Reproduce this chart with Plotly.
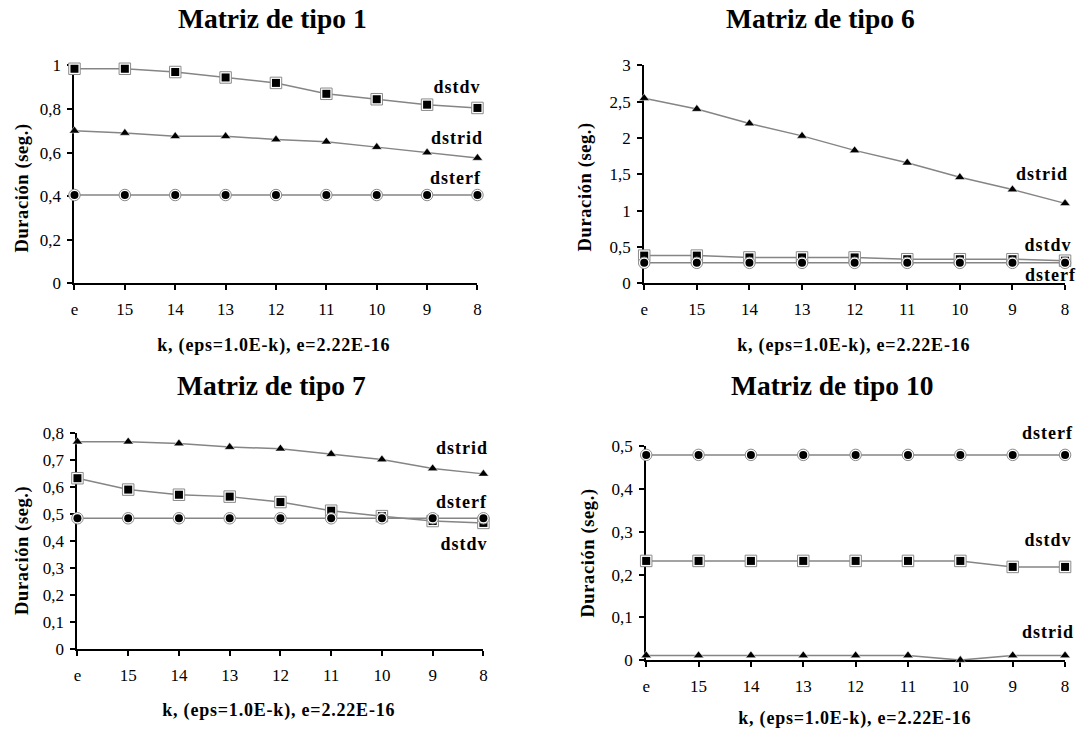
import plotly.graph_objects as go

# ---------------- data ----------------
CATEGORIES = ["e", "15", "14", "13", "12", "11", "10", "9", "8"]

T1_DSTDV = [0.985, 0.985, 0.970, 0.945, 0.920, 0.870, 0.845, 0.820, 0.805]
T1_DSTRID = [0.700, 0.690, 0.675, 0.675, 0.660, 0.650, 0.625, 0.600, 0.575]
T1_DSTERF = [0.405, 0.405, 0.405, 0.405, 0.405, 0.405, 0.405, 0.405, 0.405]

T6_DSTRID = [2.55, 2.40, 2.20, 2.03, 1.83, 1.66, 1.46, 1.29, 1.10]
T6_DSTDV = [0.38, 0.38, 0.355, 0.355, 0.355, 0.33, 0.33, 0.33, 0.31]
T6_DSTERF = [0.28, 0.28, 0.28, 0.28, 0.28, 0.28, 0.28, 0.28, 0.28]

T7_DSTRID = [0.767, 0.767, 0.760, 0.747, 0.741, 0.721, 0.701, 0.668, 0.648]
T7_DSTDV = [0.632, 0.590, 0.571, 0.564, 0.544, 0.512, 0.492, 0.474, 0.467]
T7_DSTERF = [0.484, 0.484, 0.484, 0.484, 0.484, 0.484, 0.484, 0.484, 0.484]

T10_DSTERF = [0.48, 0.48, 0.48, 0.48, 0.48, 0.48, 0.48, 0.48, 0.48]
T10_DSTDV = [0.232, 0.232, 0.232, 0.232, 0.232, 0.232, 0.232, 0.218, 0.218]
T10_DSTRID = [0.011, 0.011, 0.011, 0.011, 0.011, 0.011, 0.0, 0.011, 0.011]

Y1_TICKS = [0, 0.2, 0.4, 0.6, 0.8, 1]
Y1_LABELS = ["0", "0,2", "0,4", "0,6", "0,8", "1"]
Y6_TICKS = [0, 0.5, 1, 1.5, 2, 2.5, 3]
Y6_LABELS = ["0", "0,5", "1", "1,5", "2", "2,5", "3"]
Y7_TICKS = [0, 0.1, 0.2, 0.3, 0.4, 0.5, 0.6, 0.7, 0.8]
Y7_LABELS = ["0", "0,1", "0,2", "0,3", "0,4", "0,5", "0,6", "0,7", "0,8"]
Y10_TICKS = [0, 0.1, 0.2, 0.3, 0.4, 0.5]
Y10_LABELS = ["0", "0,1", "0,2", "0,3", "0,4", "0,5"]

TITLES = ["Matriz de tipo 1", "Matriz de tipo 6", "Matriz de tipo 7", "Matriz de tipo 10"]
X_TITLE = "k, (eps=1.0E-k), e=2.22E-16"
Y_TITLE = "Duración (seg.)"

# ---------------- layout helpers ----------------
W, H = 1077, 731
SERIF = "Liberation Serif, Times New Roman, serif"


def fx(p):
    return p / W


def fy(p):
    return 1 - p / H


panels = [
    dict(title=TITLES[0], series={"dstdv": T1_DSTDV, "dstrid": T1_DSTRID, "dsterf": T1_DSTERF},
         yticks=Y1_TICKS, ylabels=Y1_LABELS, ymax=1.0,
         xpix=(71, 477), ypix=(58, 281.5), title_pos=(271, 10), xt_pos=(272, 345), yt_pos=(18, 184),
         labels={"dstdv": (480, 80), "dstrid": (482, 132), "dsterf": (481, 173)}),
    dict(title=TITLES[1], series={"dstrid": T6_DSTRID, "dstdv": T6_DSTDV, "dsterf": T6_DSTERF},
         yticks=Y6_TICKS, ylabels=Y6_LABELS, ymax=3.0,
         xpix=(645, 1069), ypix=(58, 281.5), title_pos=(823, 10), xt_pos=(856, 345), yt_pos=(586, 183),
         labels={"dstrid": (1071, 169), "dstdv": (1075, 242), "dsterf": (1080, 273)}),
    dict(title=TITLES[2], series={"dstrid": T7_DSTRID, "dstdv": T7_DSTDV, "dsterf": T7_DSTERF},
         yticks=Y7_TICKS, ylabels=Y7_LABELS, ymax=0.8,
         xpix=(74, 483), ypix=(435, 657.5), title_pos=(270, 387), xt_pos=(277, 720), yt_pos=(19, 556),
         labels={"dstrid": (487, 451), "dsterf": (487, 506), "dstdv": (487, 549)}),
    dict(title=TITLES[3], series={"dsterf": T10_DSTERF, "dstdv": T10_DSTDV, "dstrid": T10_DSTRID},
         yticks=Y10_TICKS, ylabels=Y10_LABELS, ymax=0.5,
         xpix=(647, 1069), ypix=(449, 668.5), title_pos=(834, 387), xt_pos=(857, 728), yt_pos=(589, 559),
         labels={"dsterf": (1077, 435), "dstdv": (1075, 545), "dstrid": (1077, 640)}),
]

SYMBOLS = {"dstdv": "square", "dsterf": "circle", "dstrid": "triangle-up"}
LINE_GRAY = "#858585"

fig = go.Figure()
annotations = []
layout_axes = {}
xpos = list(range(len(CATEGORIES)))

for i, p in enumerate(panels, start=1):
    xref = "x" if i == 1 else f"x{i}"
    yref = "y" if i == 1 else f"y{i}"
    for name, vals in p["series"].items():
        sym = SYMBOLS[name]
        fig.add_trace(go.Scatter(x=xpos, y=vals, xaxis=xref, yaxis=yref, mode="lines",
                                 line=dict(color=LINE_GRAY, width=1.5), showlegend=False,
                                 hoverinfo="skip", cliponaxis=False))
        if sym == "triangle-up":
            fig.add_trace(go.Scatter(x=xpos, y=vals, xaxis=xref, yaxis=yref, mode="markers",
                                     marker=dict(symbol=sym, size=9, color="black",
                                                 line=dict(color="white", width=0.5)),
                                     showlegend=False, name=name, cliponaxis=False))
        else:
            fig.add_trace(go.Scatter(x=xpos, y=vals, xaxis=xref, yaxis=yref, mode="markers",
                                     marker=dict(symbol=sym, size=11.5, color="white",
                                                 line=dict(color="#8a8a8a", width=1)),
                                     showlegend=False, hoverinfo="skip", cliponaxis=False))
            fig.add_trace(go.Scatter(x=xpos, y=vals, xaxis=xref, yaxis=yref, mode="markers",
                                     marker=dict(symbol=sym, size=8, color="black"),
                                     showlegend=False, name=name, cliponaxis=False))

    xd = [fx(p["xpix"][0]), fx(p["xpix"][1])]
    yd = [fy(p["ypix"][1]), fy(p["ypix"][0])]
    axis_common = dict(showgrid=False, zeroline=False, tickcolor="black", tickwidth=1.5,
                       ticklen=5, layer="below traces")
    key_x = "xaxis" if i == 1 else f"xaxis{i}"
    key_y = "yaxis" if i == 1 else f"yaxis{i}"
    layout_axes[key_x] = dict(domain=xd, anchor=yref, range=[0, len(CATEGORIES) - 1],
                              tickmode="array", tickvals=xpos, ticktext=CATEGORIES,
                              ticks="outside", showline=True, linecolor="black", linewidth=2,
                              tickfont=dict(family=SERIF, size=17, color="black"),
                              ticklabelstandoff=4, **axis_common)
    layout_axes[key_y] = dict(domain=yd, anchor=xref, range=[0, p["ymax"]],
                              tickmode="array", tickvals=p["yticks"], ticktext=p["ylabels"],
                              ticks="outside", showline=True, linecolor="black", linewidth=2,
                              tickfont=dict(family=SERIF, size=17, color="black"),
                              ticklabelstandoff=3, **axis_common)
    j = i + 4
    layout_axes[f"xaxis{j}"] = dict(domain=xd, anchor=yref, overlaying=xref,
                                    range=[0, len(CATEGORIES) - 1], tickmode="array",
                                    tickvals=xpos, ticks="inside", showticklabels=False,
                                    showline=False, **axis_common)
    layout_axes[f"yaxis{j}"] = dict(domain=yd, anchor=xref, overlaying=yref,
                                    range=[0, p["ymax"]], tickmode="array",
                                    tickvals=p["yticks"], ticks="inside", showticklabels=False,
                                    showline=False, **axis_common)

    annotations.append(dict(text=f"<b>{p['title']}</b>", xref="paper", yref="paper",
                            x=fx(p["title_pos"][0]), y=fy(p["title_pos"][1]),
                            xanchor="center", yanchor="middle", showarrow=False,
                            font=dict(family=SERIF, size=27.5, color="black")))
    annotations.append(dict(text=f"<b>{X_TITLE}</b>", xref="paper", yref="paper",
                            x=fx(p["xt_pos"][0]), y=fy(p["xt_pos"][1]),
                            xanchor="center", yanchor="middle", showarrow=False,
                            font=dict(family=SERIF, size=18, color="black")))
    annotations.append(dict(text=f"<b>{Y_TITLE}</b>", xref="paper", yref="paper",
                            x=fx(p["yt_pos"][0]), y=fy(p["yt_pos"][1]), textangle=-90,
                            xanchor="center", yanchor="middle", showarrow=False,
                            font=dict(family=SERIF, size=18.5, color="black")))
    for name, (lx, ly) in p["labels"].items():
        annotations.append(dict(text=f"<b>{name}</b>", xref="paper", yref="paper",
                                x=fx(lx), y=fy(ly), xanchor="right", yanchor="middle",
                                showarrow=False,
                                font=dict(family=SERIF, size=18, color="black")))

fig.update_layout(width=W, height=H, margin=dict(l=0, r=0, t=0, b=0),
                  paper_bgcolor="white", plot_bgcolor="white", showlegend=False,
                  annotations=annotations, **layout_axes)

POST = (
    "document.body.style.margin='0';"
    "document.body.style.overflow='hidden';"
    "document.querySelectorAll('.annotation-text').forEach(function(t){"
    "  var s = t.textContent;"
    "  if (s.indexOf('Matriz') === 0) { return; }"
    "  if (s.indexOf('Duraci') === 0) { t.style.letterSpacing='0.6px'; }"
    "  else if (s.indexOf('k, (') === 0) { t.style.letterSpacing='0.8px'; }"
    "  else { t.style.letterSpacing='1px'; }"
    "});"
)

fig.write_html("out.html", post_script=POST, config={"displayModeBar": False})
